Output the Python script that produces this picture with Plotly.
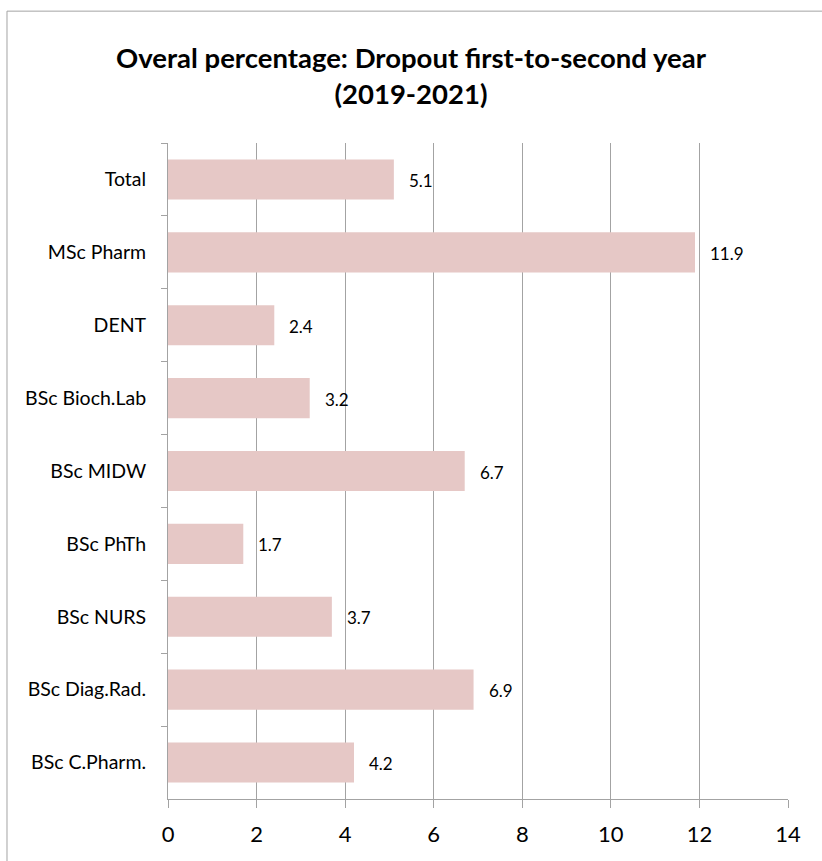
import plotly.graph_objects as go

categories = ["Total", "MSc Pharm", "DENT", "BSc Bioch.Lab", "BSc MIDW",
              "BSc PhTh", "BSc NURS", "BSc Diag.Rad.", "BSc C.Pharm."]
values = [5.1, 11.9, 2.4, 3.2, 6.7, 1.7, 3.7, 6.9, 4.2]
x_ticks = [0, 2, 4, 6, 8, 10, 12, 14]

FONT = "Lato"
GRID = "#A3A3A3"

fig = go.Figure()
fig.add_trace(go.Bar(
    y=categories, x=values, orientation="h",
    marker=dict(color="#E6C8C6", line=dict(width=0)),
    hoverinfo="skip",
))

for c, v in zip(categories, values):
    fig.add_annotation(x=v, y=c, xref="x", yref="y", text=f"{v:.1f}",
                       showarrow=False, xanchor="left", yanchor="middle",
                       xshift=13, yshift=-1,
                       font=dict(family=FONT, size=17, color="#000"))

fig.add_shape(type="rect", xref="paper", yref="paper",
              x0=-0.2597, x1=1.2, y0=-0.3, y1=1.201,
              line=dict(color=GRID, width=1), layer="below")

fig.update_layout(
    width=822, height=861,
    margin=dict(l=168, r=34, t=143, b=62),
    paper_bgcolor="white", plot_bgcolor="white",
    showlegend=False,
    bargap=0.45,
    title=dict(text="<b>Overal percentage: Dropout first-to-second year<br>(2019-2021)</b>",
               x=0.5, xref="container", xanchor="center",
               y=1 - 68 / 861, yanchor="middle",
               font=dict(family=FONT, size=27.5, color="#000")),
    xaxis=dict(range=[0, 14], tickvals=x_ticks, showgrid=True, gridcolor=GRID,
               gridwidth=1, showline=True, linecolor=GRID, linewidth=1,
               ticks="outside", ticklen=8, tickcolor=GRID, zeroline=False,
               ticklabelstandoff=8,
               tickfont=dict(family=FONT, size=22, color="#000")),
    yaxis=dict(autorange="reversed", showline=True, linecolor=GRID, linewidth=1,
               ticks="outside", ticklen=6, tickcolor=GRID, tickson="boundaries",
               showgrid=False, ticklabelstandoff=17,
               tickfont=dict(family=FONT, size=19.5, color="#000")),
)

fig.write_html("out.html", config={"displayModeBar": False},
               post_script="document.body.style.margin='0';document.body.style.overflow='hidden';")
